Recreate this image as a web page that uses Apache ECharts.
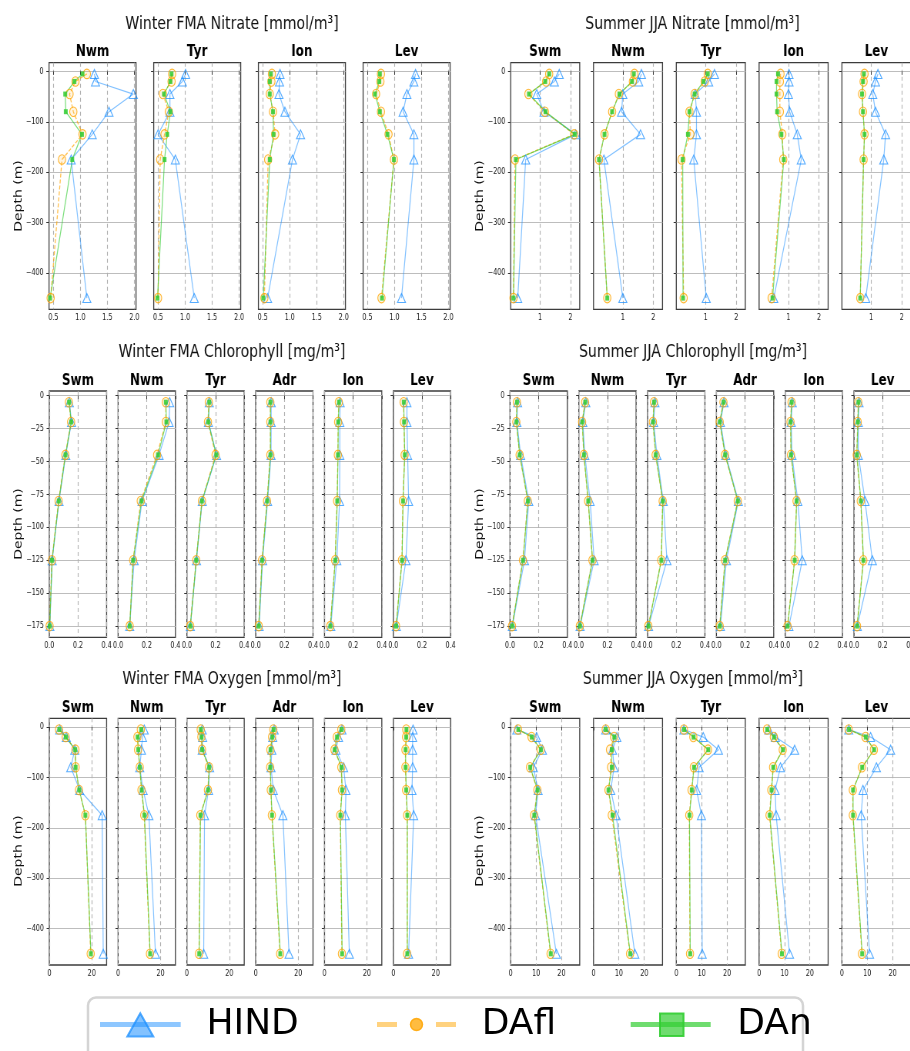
<!DOCTYPE html>
<html>
<head>
<meta charset="utf-8">
<script src="https://cdn.jsdelivr.net/npm/echarts@6/dist/echarts.min.js"></script>
<style>
  html, body { margin: 0; padding: 0; background: #fff; width: 910px; height: 1051px; overflow: hidden; }
  /* the profile panels are laid out wide and then narrowed horizontally */
  #plots { position: absolute; left: 0; top: 0; width: 1182px; height: 1051px; transform: scaleX(0.77); transform-origin: 0 0; }
  #legend { position: absolute; left: 0; top: 985px; width: 910px; height: 66px; }
</style>
</head>
<body>
<div id="plots"></div>
<div id="legend"></div>
<script>
// ---------- depths (m) ----------
const depthsDeep = [-5, -20, -45, -80, -125, -175, -450];
const depthsChl  = [-5, -20, -45, -80, -125, -175];

// ---------- regions ----------
const regionsNitWin = ['Nwm', 'Tyr', 'Ion', 'Lev'];
const regionsNitSum = ['Swm', 'Nwm', 'Tyr', 'Ion', 'Lev'];
const regionsChl    = ['Swm', 'Nwm', 'Tyr', 'Adr', 'Ion', 'Lev'];
const regionsOxyWin = ['Swm', 'Nwm', 'Tyr', 'Adr', 'Ion', 'Lev'];
const regionsOxySum = ['Swm', 'Nwm', 'Tyr', 'Ion', 'Lev'];

// ---------- tick values ----------
const yTicksDeep   = [0, -100, -200, -300, -400];
const yTicksChl    = [0, -25, -50, -75, -100, -125, -150, -175];
const xTicksNitWin = [0.5, 1.0, 1.5, 2.0];
const xTicksNitSum = [1, 2];
const xTicksChl    = [0, 0.2, 0.4];
const xTicksOxyWin = [0, 20];
const xTicksOxySum = [0, 10, 20];

// ---------- Winter FMA nitrate (mmol/m3), one row per region ----------
const nitWinHIND = [
  [1.26, 1.28, 1.98, 1.53, 1.22, 0.83, 1.12],
  [1.01, 0.95, 0.72, 0.72, 0.50, 0.82, 1.17],
  [0.82, 0.81, 0.80, 0.91, 1.20, 1.05, 0.59],
  [1.39, 1.36, 1.23, 1.16, 1.36, 1.36, 1.13]
];
const nitWinDAfl = [
  [1.12, 0.91, 0.80, 0.87, 1.04, 0.66, 0.45],
  [0.76, 0.75, 0.59, 0.70, 0.62, 0.54, 0.50],
  [0.67, 0.66, 0.63, 0.69, 0.73, 0.60, 0.53],
  [0.75, 0.74, 0.66, 0.75, 0.89, 0.99, 0.76]
];
const nitWinDAn = [
  [1.04, 0.89, 0.72, 0.73, 1.03, 0.85, 0.44],
  [0.75, 0.73, 0.61, 0.73, 0.67, 0.62, 0.49],
  [0.65, 0.63, 0.63, 0.69, 0.70, 0.63, 0.51],
  [0.73, 0.72, 0.64, 0.73, 0.87, 0.99, 0.77]
];

// ---------- Summer JJA nitrate (mmol/m3) ----------
const nitSumHIND = [
  [1.63, 1.47, 0.89, 1.13, 2.17, 0.53, 0.27],
  [1.61, 1.52, 1.00, 0.96, 1.58, 0.38, 1.00],
  [1.29, 1.10, 0.66, 0.70, 0.70, 0.61, 1.02],
  [1.02, 1.02, 1.00, 1.04, 1.29, 1.42, 0.52],
  [1.22, 1.14, 1.05, 1.14, 1.47, 1.41, 0.82]
];
const nitSumDAfl = [
  [1.30, 1.20, 0.62, 1.16, 2.12, 0.18, 0.13],
  [1.38, 1.33, 0.87, 0.65, 0.40, 0.22, 0.49],
  [1.07, 0.97, 0.64, 0.47, 0.50, 0.21, 0.28],
  [0.74, 0.72, 0.72, 0.72, 0.80, 0.83, 0.45],
  [0.78, 0.75, 0.70, 0.73, 0.78, 0.75, 0.64]
];
const nitSumDAn = [
  [1.30, 1.17, 0.64, 1.18, 2.14, 0.21, 0.13],
  [1.36, 1.30, 0.89, 0.65, 0.40, 0.22, 0.49],
  [1.07, 0.93, 0.64, 0.47, 0.42, 0.25, 0.26],
  [0.66, 0.61, 0.61, 0.63, 0.77, 0.85, 0.48],
  [0.76, 0.73, 0.70, 0.73, 0.78, 0.75, 0.64]
];

// ---------- Winter FMA chlorophyll (mg/m3) ----------
const chlWinHIND = [
  [0.140, 0.155, 0.115, 0.068, 0.020, 0.004],
  [0.360, 0.356, 0.286, 0.167, 0.112, 0.081],
  [0.156, 0.150, 0.207, 0.107, 0.067, 0.024],
  [0.108, 0.108, 0.107, 0.083, 0.048, 0.024],
  [0.109, 0.107, 0.107, 0.105, 0.086, 0.044],
  [0.095, 0.095, 0.100, 0.107, 0.088, 0.021]
];
const chlWinDAfl = [
  [0.137, 0.152, 0.112, 0.065, 0.018, 0.002],
  [0.333, 0.333, 0.272, 0.158, 0.105, 0.081],
  [0.153, 0.147, 0.200, 0.105, 0.065, 0.023],
  [0.102, 0.102, 0.102, 0.079, 0.044, 0.021],
  [0.100, 0.095, 0.093, 0.088, 0.074, 0.040],
  [0.072, 0.074, 0.079, 0.067, 0.060, 0.019]
];
const chlWinDAn = [
  [0.138, 0.153, 0.113, 0.066, 0.019, 0.003],
  [0.333, 0.337, 0.279, 0.163, 0.105, 0.081],
  [0.156, 0.149, 0.205, 0.105, 0.065, 0.024],
  [0.103, 0.103, 0.103, 0.080, 0.045, 0.021],
  [0.101, 0.096, 0.094, 0.089, 0.075, 0.041],
  [0.073, 0.075, 0.080, 0.068, 0.061, 0.020]
];

// ---------- Summer JJA chlorophyll (mg/m3) ----------
const chlSumHIND = [
  [0.053, 0.048, 0.074, 0.131, 0.101, 0.016],
  [0.049, 0.028, 0.042, 0.079, 0.107, 0.009],
  [0.051, 0.042, 0.065, 0.109, 0.135, 0.007],
  [0.053, 0.028, 0.065, 0.153, 0.070, 0.028],
  [0.049, 0.042, 0.047, 0.088, 0.119, 0.026],
  [0.035, 0.030, 0.030, 0.077, 0.128, 0.023]
];
const chlSumDAfl = [
  [0.048, 0.044, 0.067, 0.124, 0.090, 0.014],
  [0.044, 0.023, 0.035, 0.065, 0.095, 0.007],
  [0.044, 0.037, 0.056, 0.105, 0.095, 0.005],
  [0.049, 0.023, 0.060, 0.149, 0.060, 0.023],
  [0.044, 0.037, 0.040, 0.079, 0.065, 0.016],
  [0.030, 0.026, 0.019, 0.047, 0.065, 0.021]
];
const chlSumDAn = [
  [0.049, 0.045, 0.068, 0.125, 0.091, 0.015],
  [0.045, 0.024, 0.036, 0.066, 0.096, 0.008],
  [0.045, 0.038, 0.057, 0.106, 0.096, 0.006],
  [0.050, 0.024, 0.061, 0.150, 0.061, 0.024],
  [0.045, 0.038, 0.041, 0.080, 0.066, 0.017],
  [0.031, 0.027, 0.020, 0.048, 0.066, 0.022]
];

// ---------- Winter FMA oxygen (mmol/m3) ----------
const oxyWinHIND = [
  [4.9, 8.0, 12.0, 10.1, 14.3, 24.9, 25.4],
  [12.3, 11.5, 11.0, 10.2, 11.8, 14.5, 17.6],
  [7.2, 7.4, 7.2, 10.7, 10.2, 8.3, 7.9],
  [8.7, 8.0, 7.6, 7.2, 8.3, 12.8, 15.7],
  [8.2, 6.6, 5.4, 9.0, 10.1, 9.8, 11.7],
  [9.3, 9.1, 9.1, 9.1, 8.8, 9.6, 7.2]
];
const oxyWinDAfl = [
  [4.6, 7.7, 12.3, 12.4, 14.0, 17.0, 19.5],
  [10.7, 9.1, 9.4, 10.2, 11.0, 12.3, 15.0],
  [6.5, 6.8, 7.1, 10.4, 9.9, 6.3, 5.7],
  [8.3, 7.7, 6.9, 6.8, 7.1, 7.6, 11.5],
  [7.9, 5.8, 4.7, 7.9, 8.2, 7.4, 8.2],
  [6.1, 6.0, 5.7, 5.7, 6.0, 6.5, 6.5]
];
const oxyWinDAn = [
  [4.7, 7.8, 12.2, 12.4, 14.1, 17.0, 19.6],
  [10.9, 9.2, 9.5, 10.2, 11.1, 12.4, 15.1],
  [6.6, 6.9, 7.2, 10.5, 10.0, 6.4, 5.8],
  [8.4, 7.8, 7.0, 6.9, 7.2, 7.7, 11.6],
  [8.0, 5.9, 4.8, 8.0, 8.3, 7.5, 8.3],
  [6.2, 6.1, 5.8, 5.8, 6.1, 6.6, 6.6]
];

// ---------- Summer JJA oxygen (mmol/m3) ----------
const oxySumHIND = [
  [2.4, 10.2, 12.5, 8.9, 10.8, 9.8, 18.0],
  [4.8, 9.2, 7.5, 8.1, 6.8, 8.9, 16.3],
  [3.0, 10.6, 16.6, 9.0, 8.0, 9.9, 10.2],
  [3.8, 6.4, 14.0, 8.4, 6.3, 6.7, 12.0],
  [2.7, 11.3, 19.2, 13.6, 8.3, 7.6, 10.9]
];
const oxySumDAfl = [
  [2.9, 8.2, 11.8, 7.6, 10.5, 9.2, 15.7],
  [4.8, 8.1, 6.5, 6.9, 5.9, 7.2, 14.4],
  [3.0, 6.7, 12.5, 6.9, 6.0, 5.1, 5.4],
  [3.1, 5.8, 9.3, 5.5, 4.8, 4.1, 8.9],
  [2.7, 9.3, 12.6, 7.9, 4.3, 4.3, 7.9]
];
const oxySumDAn = [
  [3.0, 8.3, 11.9, 7.7, 10.6, 9.3, 15.8],
  [4.8, 8.2, 7.2, 7.2, 5.9, 7.5, 14.5],
  [3.1, 6.8, 12.6, 7.0, 6.1, 5.2, 5.5],
  [3.2, 5.9, 9.4, 5.6, 4.9, 4.2, 9.0],
  [2.8, 9.4, 12.7, 8.0, 4.4, 4.4, 8.0]
];

// ---------- layout ----------
const SX = 0.77;                 // horizontal squeeze applied to #plots
const fx = v => v / SX;          // page x -> chart x
const FONT = '"DejaVu Sans", "Liberation Sans", sans-serif';

const minus = v => (v < 0 ? '\u2212' + Math.abs(v) : String(v));
const fixed = d => v => Number(v).toFixed(d);

const groups = [
  { title: 'Winter FMA Nitrate [mmol/m\u00B3]', cx: 232, ty: 24, pty: 52, top: 62.7, h: 246.6,
    left0: 49, step: 104.7, w: 87, ylx: 19, yly: 196,
    regions: regionsNitWin, depths: depthsDeep, hind: nitWinHIND, dafl: nitWinDAfl, dan: nitWinDAn,
    xMin: 0.42, xMax: 2.03, xTicks: xTicksNitWin, xFmt: fixed(1),
    yMin: -472.25, yMax: 17.25, yTicks: yTicksDeep },
  { title: 'Summer JJA Nitrate [mmol/m\u00B3]', cx: 692.5, ty: 24, pty: 52, top: 62.7, h: 246.6,
    left0: 510.7, step: 82.8, w: 69, ylx: 480, yly: 196,
    regions: regionsNitSum, depths: depthsDeep, hind: nitSumHIND, dafl: nitSumDAfl, dan: nitSumDAn,
    xMin: 0.04, xMax: 2.3, xTicks: xTicksNitSum, xFmt: fixed(0),
    yMin: -472.25, yMax: 17.25, yTicks: yTicksDeep },
  { title: 'Winter FMA Chlorophyll [mg/m\u00B3]', cx: 232, ty: 352.7, pty: 381, top: 391, h: 246.3,
    left0: 49.3, step: 68.8, w: 57.3, ylx: 19, yly: 524,
    regions: regionsChl, depths: depthsChl, hind: chlWinHIND, dafl: chlWinDAfl, dan: chlWinDAn,
    xMin: 0, xMax: 0.4, xTicks: xTicksChl, xFmt: fixed(1),
    yMin: -183.5, yMax: 3.5, yTicks: yTicksChl },
  { title: 'Summer JJA Chlorophyll [mg/m\u00B3]', cx: 693, ty: 352.7, pty: 381, top: 391, h: 246.3,
    left0: 510, step: 68.8, w: 57.3, ylx: 480, yly: 524,
    regions: regionsChl, depths: depthsChl, hind: chlSumHIND, dafl: chlSumDAfl, dan: chlSumDAn,
    xMin: 0, xMax: 0.4, xTicks: xTicksChl, xFmt: fixed(1),
    yMin: -183.5, yMax: 3.5, yTicks: yTicksChl },
  { title: 'Winter FMA Oxygen [mmol/m\u00B3]', cx: 232, ty: 679.3, pty: 707.5, top: 718.3, h: 246.7,
    left0: 49.3, step: 68.8, w: 57.3, ylx: 19, yly: 851,
    regions: regionsOxyWin, depths: depthsDeep, hind: oxyWinHIND, dafl: oxyWinDAfl, dan: oxyWinDAn,
    xMin: 0, xMax: 27, xTicks: xTicksOxyWin, xFmt: fixed(0),
    yMin: -472.25, yMax: 17.25, yTicks: yTicksDeep },
  { title: 'Summer JJA Oxygen [mmol/m\u00B3]', cx: 693, ty: 679.3, pty: 707.5, top: 718.3, h: 246.7,
    left0: 510.7, step: 82.8, w: 69, ylx: 480, yly: 851,
    regions: regionsOxySum, depths: depthsDeep, hind: oxySumHIND, dafl: oxySumDAfl, dan: oxySumDAn,
    xMin: 0, xMax: 27.2, xTicks: xTicksOxySum, xFmt: fixed(0),
    yMin: -472.25, yMax: 17.25, yTicks: yTicksDeep }
];

// ---------- series styles ----------
const styleHIND = {
  symbol: 'triangle', symbolSize: [10.5, 9],
  lineStyle: { color: 'rgba(30,144,255,0.55)', width: 1.2 },
  itemStyle: { color: 'rgba(0,0,0,0)', borderColor: 'rgba(30,144,255,0.75)', borderWidth: 1.1 }
};
const styleDAfl = {
  symbol: 'circle', symbolSize: 9.5,
  lineStyle: { color: 'rgba(255,165,0,0.7)', width: 1.3, type: [4, 2] },
  itemStyle: { color: 'rgba(255,190,60,0.15)', borderColor: 'rgba(255,165,0,0.8)', borderWidth: 1.1 }
};
const styleDAn = {
  symbol: 'rect', symbolSize: 5,
  lineStyle: { color: 'rgba(50,205,50,0.65)', width: 1.2 },
  itemStyle: { color: 'rgba(50,205,50,0.85)', borderWidth: 0 }
};

const grids = [], xAxes = [], yAxes = [], series = [], texts = [];

groups.forEach(g => {
  texts.push({
    type: 'text', x: fx(g.cx), y: g.ty, silent: true,
    style: { text: g.title, fontSize: 18.3, fontFamily: FONT, fill: '#111', align: 'center', verticalAlign: 'middle' }
  });
  texts.push({
    type: 'text', x: fx(g.ylx), y: g.yly, rotation: Math.PI / 2, silent: true,
    style: { text: 'Depth (m)', fontSize: 14, fontFamily: FONT, fill: '#111', align: 'center', verticalAlign: 'middle' }
  });

  g.regions.forEach((reg, i) => {
    const gi = grids.length;
    const left = g.left0 + i * g.step;
    grids.push({
      left: fx(left), top: g.top, width: fx(g.w), height: g.h,
      show: true, borderColor: '#3c3c3c', borderWidth: 1.3, backgroundColor: 'rgba(0,0,0,0)',
      containLabel: false, outerBoundsMode: 'none'
    });
    xAxes.push({
      type: 'value', gridIndex: gi, min: g.xMin, max: g.xMax, position: 'bottom',
      axisLine: { show: false },
      axisTick: { show: true, length: 3.5, customValues: g.xTicks, lineStyle: { color: '#333' } },
      axisLabel: { show: true, customValues: g.xTicks, formatter: g.xFmt, fontSize: 8.3,
                   fontFamily: FONT, color: '#222', margin: 5 },
      splitLine: { show: true, lineStyle: { color: '#b0b0b0', width: 1.1, type: [4, 3] } }
    });
    yAxes.push({
      type: 'value', gridIndex: gi, min: g.yMin, max: g.yMax,
      axisLine: { show: false },
      axisTick: { show: true, length: 3.5, customValues: g.yTicks, lineStyle: { color: '#333' } },
      axisLabel: { show: i === 0, customValues: g.yTicks, formatter: minus, fontSize: 8.3,
                   fontFamily: FONT, color: '#222', margin: 7 },
      splitLine: { show: true, lineStyle: { color: '#bdbdbd', width: 1.2 } }
    });
    [['HIND', g.hind, styleHIND], ['DAfl', g.dafl, styleDAfl], ['DAn', g.dan, styleDAn]].forEach(([name, arr, st]) => {
      series.push(Object.assign({
        type: 'line', name: name, xAxisIndex: gi, yAxisIndex: gi,
        data: arr[i].map((v, k) => [v, g.depths[k]]),
        showSymbol: true, silent: true, animation: false
      }, st));
    });
    texts.push({
      type: 'text', x: fx(left + g.w / 2), y: g.pty, silent: true,
      style: { text: reg, fontSize: 15.5, fontWeight: 'bold', fontFamily: FONT, fill: '#000',
               align: 'center', verticalAlign: 'middle' }
    });
  });
});

const plots = echarts.init(document.getElementById('plots'), null, { renderer: 'canvas' });
plots.setOption({
  animation: false,
  backgroundColor: '#fff',
  grid: grids, xAxis: xAxes, yAxis: yAxes, series: series,
  graphic: { elements: texts }
});

// ---------- legend panel ----------
const legendNames = ['HIND', 'DAfl', 'DAn'];
const LY = 39.5;
const legend = echarts.init(document.getElementById('legend'), null, { renderer: 'canvas' });
legend.setOption({
  animation: false,
  graphic: { elements: [
    { type: 'rect', shape: { x: 88, y: 12.5, width: 715, height: 90, r: 8 },
      style: { fill: '#fff', stroke: '#d4d4d4', lineWidth: 2.5 } },
    // HIND
    { type: 'line', shape: { x1: 100, y1: LY, x2: 180.7, y2: LY },
      style: { stroke: 'rgba(30,144,255,0.5)', lineWidth: 5 } },
    { type: 'polygon', shape: { points: [[140.3, 28.3], [127.3, 51.5], [153.3, 51.5]] },
      style: { fill: 'rgba(30,144,255,0.55)', stroke: 'rgba(30,144,255,0.75)', lineWidth: 2 } },
    { type: 'text', x: 206.5, y: LY + 0.5,
      style: { text: legendNames[0], fontSize: 36, fontFamily: FONT, fill: '#000', verticalAlign: 'middle' } },
    // DAfl
    { type: 'line', shape: { x1: 377, y1: LY, x2: 397, y2: LY },
      style: { stroke: 'rgba(255,165,0,0.5)', lineWidth: 5 } },
    { type: 'line', shape: { x1: 436, y1: LY, x2: 456, y2: LY },
      style: { stroke: 'rgba(255,165,0,0.5)', lineWidth: 5 } },
    { type: 'circle', shape: { cx: 416.5, cy: LY, r: 6 },
      style: { fill: 'rgba(255,165,0,0.75)', stroke: 'rgba(255,165,0,0.85)', lineWidth: 1.5 } },
    { type: 'text', x: 481.7, y: LY + 0.5,
      style: { text: legendNames[1], fontSize: 36, fontFamily: FONT, fill: '#000', verticalAlign: 'middle' } },
    // DAn
    { type: 'line', shape: { x1: 630.7, y1: LY, x2: 710.7, y2: LY },
      style: { stroke: 'rgba(50,205,50,0.7)', lineWidth: 5 } },
    { type: 'rect', shape: { x: 660, y: 28.5, width: 23.5, height: 22.5 },
      style: { fill: 'rgba(50,205,50,0.7)', stroke: 'rgba(50,205,50,0.9)', lineWidth: 2 } },
    { type: 'text', x: 737.2, y: LY + 0.5,
      style: { text: legendNames[2], fontSize: 36, fontFamily: FONT, fill: '#000', verticalAlign: 'middle' } }
  ] }
});
</script>
</body>
</html>
